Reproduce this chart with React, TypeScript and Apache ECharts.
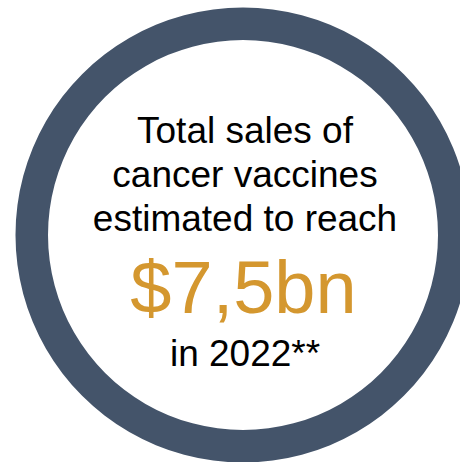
import React, { useEffect, useRef } from "react";
import * as echarts from "echarts";

// Data
const ringNames = ["Cancer vaccines"];
const ringValues = [7.5];
const headlineLines = ["Total sales of", "cancer vaccines", "estimated to reach"];
const amountLabel = "$7,5bn";
const yearLabel = "in 2022**";

const FONT = '"Liberation Sans", Arial, Helvetica, sans-serif';
const RING_COLOR = "#44546A";
const GOLD = "#D4972F";

export default function App() {
  const ref = useRef<HTMLDivElement>(null);

  useEffect(() => {
    document.body.style.margin = "0";
    if (!ref.current) return;
    const chart = echarts.init(ref.current, undefined, { renderer: "svg" });

    const cx = 245;
    const lineYs = [130.5, 174.9, 218.9];
    const textEls: any[] = headlineLines.map((t, i) => ({
      type: "text",
      x: cx,
      y: lineYs[i],
      silent: true,
      style: {
        text: t,
        fill: "#000000",
        font: `37px ${FONT}`,
        align: "center",
        verticalAlign: "middle",
      },
    }));
    textEls.push({
      type: "text",
      x: 243.5,
      y: 287.1,
      silent: true,
      style: {
        text: amountLabel,
        fill: GOLD,
        font: `74px ${FONT}`,
        align: "center",
        verticalAlign: "middle",
      },
    });
    textEls.push({
      type: "text",
      x: cx,
      y: 353.9,
      silent: true,
      style: {
        text: yearLabel,
        fill: "#000000",
        font: `37px ${FONT}`,
        align: "center",
        verticalAlign: "middle",
      },
    });

    chart.setOption({
      animation: false,
      backgroundColor: "#ffffff",
      series: [
        {
          type: "pie",
          silent: true,
          center: [243, 235],
          radius: [195, 227.5],
          startAngle: 90,
          label: { show: false },
          labelLine: { show: false },
          itemStyle: { color: RING_COLOR, borderWidth: 0 },
          data: ringNames.map((n, i) => ({ name: n, value: ringValues[i] })),
        },
      ],
      graphic: textEls,
    });

    return () => chart.dispose();
  }, []);

  return <div ref={ref} style={{ width: 460, height: 462 }} />;
}
